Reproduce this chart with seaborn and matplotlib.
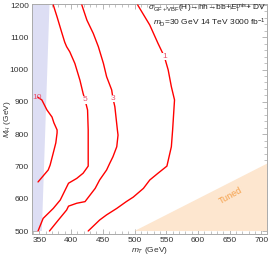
import numpy as np
import pandas as pd
import matplotlib
matplotlib.use("Agg")
import matplotlib.pyplot as plt
from matplotlib.ticker import MultipleLocator
import seaborn as sns

# contour lines (m_T, M_H in GeV)
x10 = [347, 354, 362, 370, 373, 378, 378, 376, 372, 367, 364, 348]
y10 = [915, 906, 875, 853, 835, 813, 804, 773, 742, 704, 689, 652]

x5 = [372, 378, 385, 390, 393, 398, 406, 414, 419, 422, 426, 427, 427, 419, 409, 396, 383, 372, 356, 348]
y5 = [1200, 1163, 1117, 1085, 1071, 1055, 1019, 967, 926, 906, 875, 813, 701, 679, 663, 648, 596, 570, 539, 500]

x3 = [417, 425, 435, 443, 451, 456, 464, 466, 469, 473, 474, 472, 466, 461, 456, 445, 438, 422, 409, 396, 393, 380, 366]
y3 = [1200, 1153, 1112, 1071, 1019, 978, 937, 911, 885, 813, 797, 761, 730, 710, 689, 658, 632, 591, 586, 577, 565, 534, 500]

x1 = [505, 524, 537, 547, 553, 558, 563, 562, 560, 558, 551, 537, 524, 514, 498, 487, 472, 456, 445, 427]
y1 = [1200, 1138, 1081, 1040, 999, 947, 906, 875, 813, 761, 701, 679, 658, 632, 605, 591, 570, 550, 534, 500]

levels = ["10", "5", "3", "1"]
label_pos = [(347, 915), (422, 906), (466, 911), (547, 1040)]

# shaded regions
excl_x = [337, 354, 366, 337]
excl_y = [500, 500, 1200, 1200]
tuned_x = [500, 715, 715]
tuned_y = [500, 715, 500]

sns.set_style("ticks")
plt.rcParams["font.family"] = ["Liberation Sans", "DejaVu Sans"]
plt.rcParams["mathtext.fontset"] = "custom"
plt.rcParams["mathtext.rm"] = "Liberation Sans"
plt.rcParams["mathtext.it"] = "Liberation Sans:italic"
plt.rcParams["mathtext.sf"] = "Liberation Sans"

fig = plt.figure(figsize=(2.70, 2.59), dpi=100)
ax = fig.add_axes([0.1167, 0.0965, 0.872, 0.888])

ax.fill(excl_x, excl_y, color="#dddef4", lw=0, zorder=1)
ax.fill(tuned_x, tuned_y, color="#fde6cf", lw=0, zorder=1)

frames = []
for lev, xs, ys in zip(levels, [x10, x5, x3, x1], [y10, y5, y3, y1]):
    frames.append(pd.DataFrame({"mT": xs, "MH": ys, "lev": lev}))
df = pd.concat(frames, ignore_index=True)

sns.lineplot(data=df, x="mT", y="MH", units="lev", estimator=None, sort=False,
             color="#ff0000", lw=1.0, ax=ax, zorder=3, legend=False)

for lev, (lx, ly) in zip(levels, label_pos):
    bb = None if lev == "10" else dict(facecolor="white", edgecolor="none", pad=0.2)
    ax.text(lx, ly, lev, color="#e8506a", fontsize=6, ha="center", va="center",
            zorder=4, bbox=bb)

ax.text(651, 608, "Tuned", color="#f5a04a", fontsize=6.5, rotation=29,
        ha="center", va="center", zorder=2)

ax.text(0.995, 0.98, r"$\sigma_{\rm GF+VBF}$(H)→hh→bb+$E_{\rm T}^{\rm mis}$+ DV",
        transform=ax.transAxes, ha="right", va="center", fontsize=6, color="#222222", zorder=5)
ax.text(0.995, 0.92, r"$m_{\rm D}$=30 GeV 14 TeV 3000 fb$^{-1}$",
        transform=ax.transAxes, ha="right", va="center", fontsize=6, color="#222222", zorder=5)

ax.set_xlim(337.7, 708.6)
ax.set_ylim(490.7, 1203.1)
ax.xaxis.set_major_locator(MultipleLocator(50))
ax.xaxis.set_minor_locator(MultipleLocator(10))
ax.yaxis.set_major_locator(MultipleLocator(100))
ax.yaxis.set_minor_locator(MultipleLocator(20))
ax.tick_params(which="both", direction="in", top=True, right=True,
               color="#aaaaaa", labelcolor="#333333", labelsize=6, pad=2)
ax.tick_params(which="major", length=3.5, width=0.6)
ax.tick_params(which="minor", length=2, width=0.5)
for s in ax.spines.values():
    s.set_color("#aaaaaa")
    s.set_linewidth(0.7)

ax.set_xlabel(r"$m_T$ (GeV)", fontsize=6, color="#333333", labelpad=1)
ax.set_ylabel(r"$M_H$ (GeV)", fontsize=6, color="#333333")
ax.yaxis.set_label_coords(-0.08, 0.5)

fig.savefig("out.png", dpi=100)
